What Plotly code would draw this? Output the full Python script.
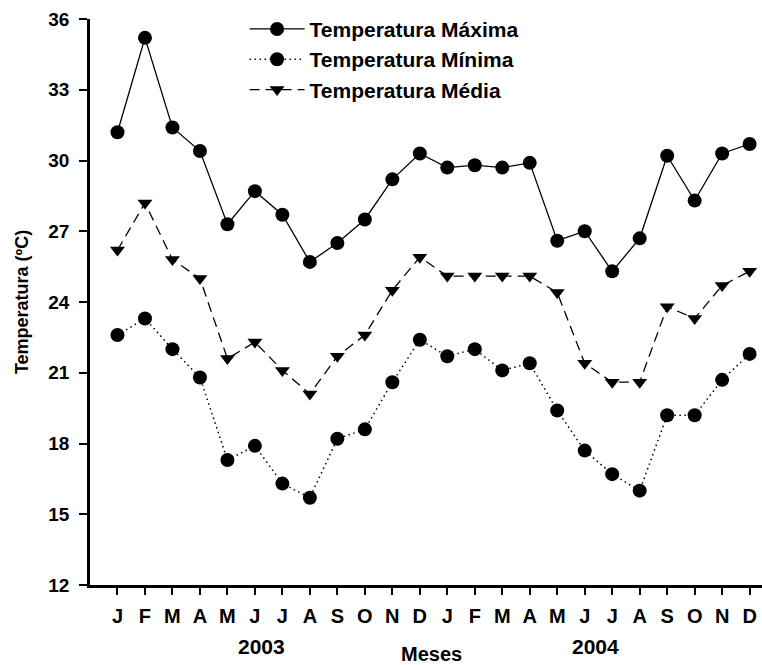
import plotly.graph_objects as go

months = ["J", "F", "M", "A", "M", "J", "J", "A", "S", "O", "N", "D",
          "J", "F", "M", "A", "M", "J", "J", "A", "S", "O", "N", "D"]
years = ["2003", "2004"]
t_max = [31.2, 35.2, 31.4, 30.4, 27.3, 28.7, 27.7, 25.7, 26.5, 27.5, 29.2, 30.3,
         29.7, 29.8, 29.7, 29.9, 26.6, 27.0, 25.3, 26.7, 30.2, 28.3, 30.3, 30.7]
t_min = [22.6, 23.3, 22.0, 20.8, 17.3, 17.9, 16.3, 15.7, 18.2, 18.6, 20.6, 22.4,
         21.7, 22.0, 21.1, 21.4, 19.4, 17.7, 16.7, 16.0, 19.2, 19.2, 20.7, 21.8]
t_med = [26.2, 28.2, 25.8, 25.0, 21.6, 22.3, 21.1, 20.1, 21.7, 22.6, 24.5, 25.9,
         25.1, 25.1, 25.1, 25.1, 24.4, 21.4, 20.6, 20.6, 23.8, 23.3, 24.7, 25.3]
y_ticks = [12, 15, 18, 21, 24, 27, 30, 33, 36]

x = list(range(1, len(months) + 1))
FONT = "Liberation Sans, Arial, sans-serif"

fig = go.Figure()
fig.add_trace(go.Scatter(
    x=x, y=t_max, name="Temperatura Máxima", mode="lines+markers",
    line=dict(color="black", width=1.3),
    marker=dict(symbol="circle", size=14, color="black"),
    legendgroup="a"))
fig.add_trace(go.Scatter(
    x=x, y=t_min, name="Temperatura Mínima", mode="lines+markers",
    line=dict(color="black", width=1.5, dash="1.5px,3.5px"),
    marker=dict(symbol="circle", size=14, color="black"),
    legendgroup="b"))
fig.add_trace(go.Scatter(
    x=x, y=t_med, name="Temperatura Média", mode="lines+markers",
    line=dict(color="black", width=1.3, dash="10px,6px"),
    marker=dict(symbol="triangle-down", size=13, color="black"),
    legendgroup="c"))

fig.update_layout(
    width=762, height=665,
    margin=dict(l=90, r=0, t=19, b=80),
    paper_bgcolor="white", plot_bgcolor="white",
    font=dict(family=FONT, color="black", size=16, weight="bold"),
    showlegend=True,
    legend=dict(x=0.23, y=1.018, xanchor="left", yanchor="top",
                font=dict(family=FONT, size=21, color="black", weight="bold"),
                itemwidth=55,
                bgcolor="rgba(0,0,0,0)", tracegroupgap=0),
    xaxis=dict(range=[0, 24.45], tickmode="array", tickvals=x, ticktext=months,
               showgrid=False, zeroline=False, showline=True, linecolor="black",
               linewidth=2.5, ticks="outside", ticklen=7, tickwidth=2,
               tickcolor="black", ticklabelstandoff=4,
               tickfont=dict(family=FONT, size=20, color="black", weight="bold")),
    yaxis=dict(range=[12, 36], tickmode="array", tickvals=y_ticks,
               showgrid=False, zeroline=False, showline=True, linecolor="black",
               linewidth=2.5, ticks="outside", ticklen=8, tickwidth=2,
               tickcolor="black", ticklabelstandoff=6,
               title=dict(text="Temperatura (ºC)", standoff=16,
                          font=dict(family=FONT, size=18, color="black", weight="bold")),
               tickfont=dict(family=FONT, size=19, color="black", weight="bold")),
)

fig.add_annotation(x=6.25, y=-0.109, xref="x", yref="paper", text=years[0],
                   yanchor="middle", showarrow=False,
                   font=dict(family=FONT, size=21, color="black", weight="bold"))
fig.add_annotation(x=18.4, y=-0.109, xref="x", yref="paper", text=years[1],
                   yanchor="middle", showarrow=False,
                   font=dict(family=FONT, size=21, color="black", weight="bold"))
fig.add_annotation(x=12.43, y=-0.122, xref="x", yref="paper", text="Meses",
                   yanchor="middle", showarrow=False,
                   font=dict(family=FONT, size=20, color="black", weight="bold"))

fig.write_html("out.html")
